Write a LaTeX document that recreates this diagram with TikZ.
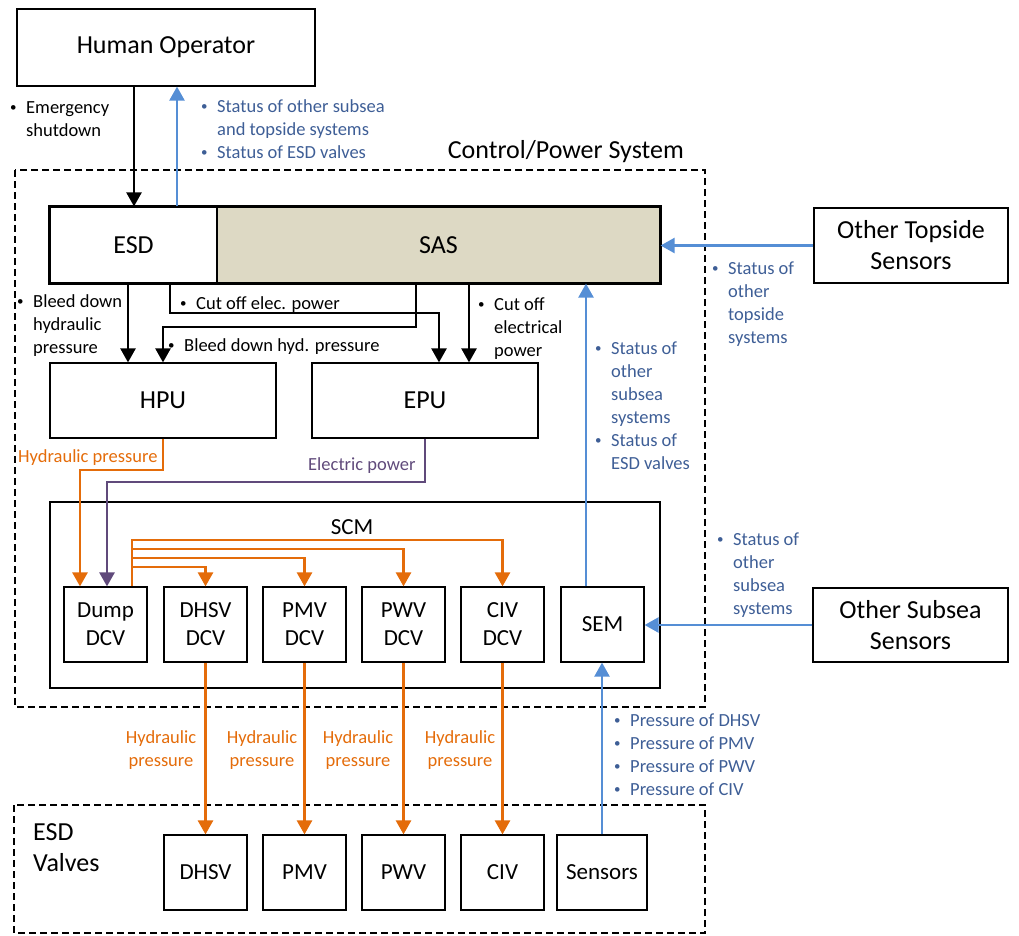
\documentclass[tikz,border=0pt]{standalone}
\usepackage{fontspec}
\setmainfont{Carlito}
\usetikzlibrary{arrows.meta}
\definecolor{sastan}{RGB}{221,217,196}
\definecolor{infoline}{RGB}{85,142,213}
\definecolor{infotext}{RGB}{62,94,150}
\definecolor{hydorange}{RGB}{228,108,10}
\definecolor{pwrpurple}{RGB}{96,74,123}
\newcommand{\bigtxt}{\fontsize{26}{31}\selectfont}
\newcommand{\midtxt}{\fontsize{23}{28}\selectfont}
\newcommand{\smltxt}{\fontsize{18.5}{23}\selectfont}
\newcommand{\bdot}{\makebox[9pt][l]{\raisebox{1.5pt}{\fontsize{13}{13}\selectfont\textbullet}}}
\tikzset{
  unit/.style={draw, line width=1.2pt, inner sep=0pt, align=center, font=\bigtxt},
  dcv/.style={unit, minimum width=83, minimum height=75, font=\midtxt},
  zone/.style={draw, line width=1.2pt, dash pattern=on 7pt off 4pt},
  note/.style={inner sep=0pt, anchor=base west, font=\smltxt},
  tip/.style={-{Triangle[length=14pt,width=15pt]}},
  ctrl/.style={tip, line width=2.4pt, black},
  info/.style={tip, line width=2.4pt, infoline},
  hyd/.style={tip, line width=2.6pt, hydorange},
  pwr/.style={tip, line width=2.6pt, pwrpurple}
}

\begin{document}
\begin{tikzpicture}[x=1pt, y=-1pt]
  \useasboundingbox (0,0) rectangle (1019,935);

  % dashed system borders
  \draw[zone] (15,170) rectangle (705,707);
  \draw[zone] (14,805) rectangle (705,933);
  \node[font=\bigtxt, inner sep=0pt, anchor=base east] (cpstitle) at (684,158) {Control/Power System};
  \node[font=\bigtxt, inner sep=0pt, anchor=base west] (valvestitle) at (33,840)
    {\begin{tabular}[t]{@{}l@{}}ESD\\Valves\end{tabular}};

  % top level
  \node[unit, minimum width=298, minimum height=77] (ho) at (166,47.5) {Human Operator};
  \node[unit, minimum width=167, minimum height=76] (esd) at (133.5,245) {ESD};
  \node[unit, minimum width=443, minimum height=76, fill=sastan] (sas) at (438.5,245) {SAS};
  \draw[line width=2pt] (esd.north west) rectangle (sas.south east);
  \node[unit, minimum width=194, minimum height=75] (ots) at (911,245.5) {Other Topside\\Sensors};

  \node[unit, minimum width=226, minimum height=75] (hpu) at (163,400.5) {HPU};
  \node[unit, minimum width=226, minimum height=75] (epu) at (425,400.5) {EPU};

  % subsea control module
  \node[unit, minimum width=610, minimum height=186] (scm) at (355,595) {};
  \node[font=\midtxt, inner sep=0pt] (scmtitle) at (352,527) {SCM};
  \node[dcv] (dump) at (105.5,624.5) {Dump\\DCV};
  \node[dcv] (dhsvdcv) at (205.5,624.5) {DHSV\\DCV};
  \node[dcv] (pmvdcv) at (304.5,624.5) {PMV\\DCV};
  \node[dcv] (pwvdcv) at (403.5,624.5) {PWV\\DCV};
  \node[dcv] (civdcv) at (502.5,624.5) {CIV\\DCV};
  \node[dcv] (sem) at (602.5,624.5) {SEM};
  \node[unit, minimum width=195, minimum height=74] (oss) at (910.5,625) {Other Subsea\\Sensors};

  % valves
  \node[dcv] (dhsv) at (205.5,872.5) {DHSV};
  \node[dcv] (pmv) at (304.5,872.5) {PMV};
  \node[dcv] (pwv) at (403.5,872.5) {PWV};
  \node[dcv] (civ) at (502.5,872.5) {CIV};
  \node[dcv, minimum width=90] (sensors) at (602,872.5) {Sensors};

  % operator <-> ESD
  \draw[ctrl] (134,0 |- ho.south) -- (134,0 |- esd.north);
  \draw[info] (177,0 |- esd.north) -- (177,0 |- ho.south);
  \node[note] (lblesd) at (10,113)
    {\begin{tabular}[t]{@{}l@{\hspace{7pt}}l@{}}\bdot & Emergency\\ & shutdown\end{tabular}};
  \node[note, text=infotext] (lblho) at (201,112)
    {\begin{tabular}[t]{@{}l@{\hspace{7pt}}l@{}}\bdot & Status of other subsea\\ & and topside systems\\ \bdot & Status of ESD valves\end{tabular}};

  % topside sensors
  \draw[info] (ots.west) -- (ots.west -| sas.east);
  \node[note, text=infotext] (lblots) at (712,274)
    {\begin{tabular}[t]{@{}l@{\hspace{7pt}}l@{}}\bdot & Status of\\ & other\\ & topside\\ & systems\end{tabular}};

  % shutdown commands
  \draw[ctrl] (128,0 |- esd.south) -- (128,0 |- hpu.north);
  \draw[ctrl] (170,0 |- esd.south) -- (170,313) -| (439,0 |- epu.north);
  \draw[ctrl] (416,0 |- sas.south) -- (416,327) -| (hpu.north);
  \draw[ctrl] (469,0 |- sas.south) -- (469,0 |- epu.north);
  \node[note] (lblbleed) at (17,307)
    {\begin{tabular}[t]{@{}l@{\hspace{7pt}}l@{}}\bdot & Bleed down\\ & hydraulic\\ & pressure\end{tabular}};
  \node[note] (lblcut) at (180,309)
    {\begin{tabular}[t]{@{}l@{\hspace{7pt}}l@{}}\bdot & Cut off elec. power\end{tabular}};
  \node[note] (lblhyd) at (168,351)
    {\begin{tabular}[t]{@{}l@{\hspace{7pt}}l@{}}\bdot & Bleed down hyd. pressure\end{tabular}};
  \node[note] (lblcutoff) at (478,310)
    {\begin{tabular}[t]{@{}l@{\hspace{7pt}}l@{}}\bdot & Cut off\\ & electrical\\ & power\end{tabular}};

  % supply to dump valve
  \draw[hyd] (hpu.south) -- (163,470) -| (80,0 |- dump.north);
  \draw[pwr] (epu.south) -- (425,482) -| (107,0 |- dump.north);
  \node[note, text=hydorange] (lblsupply) at (18,462) {Hydraulic pressure};
  \node[note, text=pwrpurple] (lblpower) at (308,470) {Electric power};

  % distribution inside SCM
  \draw[hyd] (132,0 |- dump.north) -- (132,540) -| (civdcv.north);
  \draw[hyd] (132,549) -| (pwvdcv.north);
  \draw[hyd] (132,558) -| (pmvdcv.north);
  \draw[hyd] (132,567) -| (dhsvdcv.north);

  % SEM status
  \draw[info] (586,0 |- sem.north) -- (586,0 |- sas.south);
  \node[note, text=infotext] (lblsem) at (595,354)
    {\begin{tabular}[t]{@{}l@{\hspace{7pt}}l@{}}\bdot & Status of\\ & other\\ & subsea\\ & systems\\ \bdot & Status of\\ & ESD valves\end{tabular}};
  \draw[info] (oss.west) -- (oss.west -| sem.east);
  \node[note, text=infotext] (lbloss) at (717,545)
    {\begin{tabular}[t]{@{}l@{\hspace{7pt}}l@{}}\bdot & Status of\\ & other\\ & subsea\\ & systems\end{tabular}};
  \draw[info] (sensors.north) -- (sensors.north |- sem.south);
  \node[note, text=infotext] (lblsens) at (614,726)
    {\begin{tabular}[t]{@{}l@{\hspace{7pt}}l@{}}\bdot & Pressure of DHSV\\ \bdot & Pressure of PMV\\ \bdot & Pressure of PWV\\ \bdot & Pressure of CIV\end{tabular}};

  % hydraulic lines to valves
  \draw[hyd] (dhsvdcv.south) -- (dhsv.north);
  \draw[hyd] (pmvdcv.south) -- (pmv.north);
  \draw[hyd] (pwvdcv.south) -- (pwv.north);
  \draw[hyd] (civdcv.south) -- (civ.north);
  \node[note, anchor=base, text=hydorange] (lbldhsv) at (161,743)
    {\begin{tabular}[t]{@{}c@{}}Hydraulic\\pressure\end{tabular}};
  \node[note, anchor=base, text=hydorange] (lblpmv) at (262,743)
    {\begin{tabular}[t]{@{}c@{}}Hydraulic\\pressure\end{tabular}};
  \node[note, anchor=base, text=hydorange] (lblpwv) at (358,743)
    {\begin{tabular}[t]{@{}c@{}}Hydraulic\\pressure\end{tabular}};
  \node[note, anchor=base, text=hydorange] (lblciv) at (460,743)
    {\begin{tabular}[t]{@{}c@{}}Hydraulic\\pressure\end{tabular}};
\end{tikzpicture}
\end{document}
